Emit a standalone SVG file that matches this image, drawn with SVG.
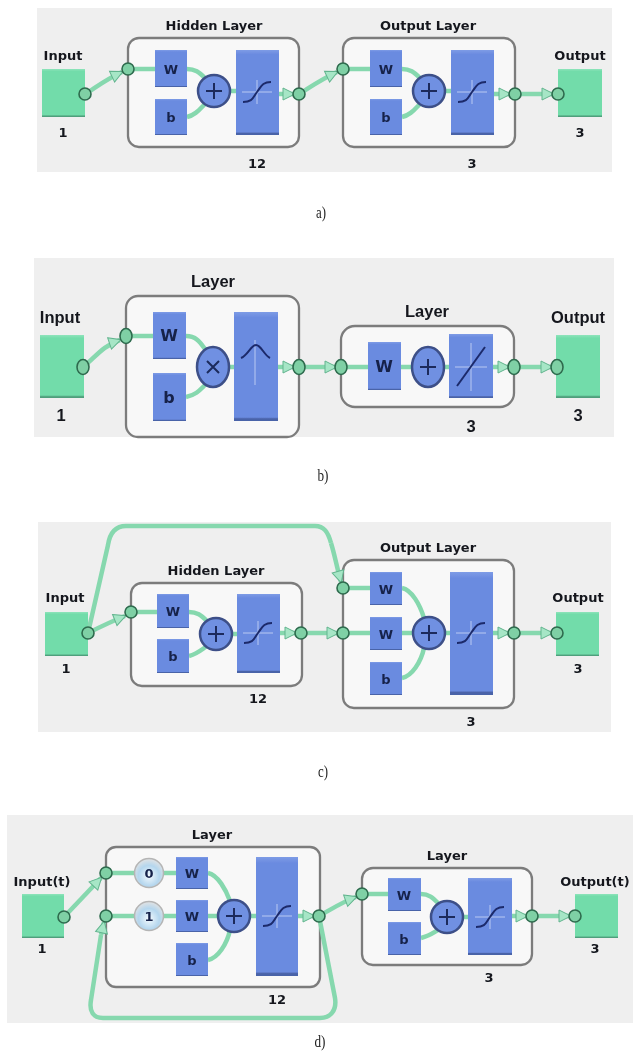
<svg xmlns="http://www.w3.org/2000/svg" xmlns:xlink="http://www.w3.org/1999/xlink" width="633" height="1055" viewBox="0 0 633 1055">
<style>
.panel{fill:#efefef}
.layer{fill:#f8f8f8;stroke:#7c7c7c;stroke-width:2.3}
.io{fill:url(#gGreen)}
.blk{fill:url(#gBlue)}
.sum{fill:#6f90e2;stroke:#3d5088;stroke-width:2.5}
.delay{fill:url(#gDelay);stroke:#b5b5b5;stroke-width:1.5}
.dot{fill:#7fd0a5;stroke:#2e6b4e;stroke-width:1.6}
.wire{fill:none;stroke:#86d8ae;stroke-width:4.5}
.arr{marker-end:url(#tri)}
.glyph{fill:none;stroke:#1b2a6b;stroke-width:2}
.cross{fill:none;stroke:#b9c9f2;stroke-width:1}
.op{fill:none;stroke:#1d2c5c;stroke-width:2}
text{font-family:"DejaVu Sans","Liberation Sans",sans-serif;font-weight:bold;fill:#14181f;text-anchor:middle}
.t{font-size:13px}
.n{font-size:13px}
.tall{font-family:"Liberation Sans",Arial,sans-serif;font-size:16.5px}
.wb{font-size:13px;fill:#16224a}
.big{font-size:16px}
.cap{font-family:"Liberation Serif",serif;font-weight:normal;font-size:17px;fill:#222}
</style>
<defs>
<linearGradient id="gBlue" x1="0" y1="0" x2="0" y2="1"><stop offset="0" stop-color="#7e9ce6"/><stop offset="0.05" stop-color="#6b8be0"/><stop offset="0.965" stop-color="#6b8be0"/><stop offset="0.98" stop-color="#4a63a8"/></linearGradient>
<linearGradient id="gGreen" x1="0" y1="0" x2="0" y2="1"><stop offset="0" stop-color="#8fe4bb"/><stop offset="0.05" stop-color="#72dcaa"/><stop offset="0.955" stop-color="#72dcaa"/><stop offset="0.98" stop-color="#4f9f7c"/></linearGradient>
<radialGradient id="gDelay" cx="0.5" cy="0.6" r="0.6"><stop offset="0" stop-color="#f4fafd"/><stop offset="0.6" stop-color="#b4d6ee"/><stop offset="1" stop-color="#e3e3e3"/></radialGradient>
<marker id="tri" markerUnits="userSpaceOnUse" markerWidth="16" markerHeight="16" refX="12" refY="8" orient="auto"><path d="M1 2L13 8L1 14Z" fill="#a6e6c6" stroke="#62b48e" stroke-width="1"/></marker>
<g id="tan"><path class="cross" d="M-15 0H15M0 -12V12"/><path class="glyph" d="M-14 10C-4 10 -4 5 0 0S5 -10 14 -10"/></g>
<g id="plus"><path class="op" d="M-8 0H8M0 -8V8"/></g>
<filter id="soft" x="0" y="0" width="100%" height="100%"><feGaussianBlur stdDeviation="0.55"/></filter>
</defs>
<rect width="633" height="1055" fill="#fff"/>
<g filter="url(#soft)">
<rect class="panel" x="37" y="8" width="575" height="164"/>
<rect class="panel" x="34" y="258" width="580" height="179"/>
<rect class="panel" x="38" y="522" width="573" height="210"/>
<rect class="panel" x="7" y="815" width="626" height="208"/>

<g id="a-hidden"><rect class="layer" x="128" y="38" width="171" height="109" rx="11"/><text class="t" x="214" y="30">Hidden Layer</text><text class="n" x="257" y="168">12</text></g>
<g id="a-output"><rect class="layer" x="343" y="38" width="172" height="109" rx="11"/><text class="t" x="428" y="30">Output Layer</text><text class="n" x="472" y="168">3</text></g>
<g id="a-input"><rect class="io" x="42" y="69" width="43" height="48"/><text class="t" x="63" y="60">Input</text><text class="n" x="63" y="137">1</text></g>
<g id="a-out"><rect class="io" x="558" y="69" width="44" height="48"/><text class="t" x="580" y="60">Output</text><text class="n" x="580" y="137">3</text></g>

<g id="b-layer1"><rect class="layer" x="126" y="296" width="173" height="141" rx="12"/><text class="tall" x="213" y="287">Layer</text></g>
<g id="b-layer2"><rect class="layer" x="341" y="326" width="173" height="81" rx="14"/><text class="tall" x="427" y="317">Layer</text><text class="tall" x="471" y="432">3</text></g>
<g id="b-input"><rect class="io" x="40" y="335" width="44" height="63"/><text class="tall" x="60" y="323">Input</text><text class="tall" x="61" y="421">1</text></g>
<g id="b-out"><rect class="io" x="556" y="335" width="44" height="63"/><text class="tall" x="578" y="323">Output</text><text class="tall" x="578" y="421">3</text></g>

<g id="c-hidden"><rect class="layer" x="131" y="583" width="171" height="103" rx="11"/><text class="t" x="216" y="575">Hidden Layer</text><text class="n" x="258" y="703">12</text></g>
<g id="c-output"><rect class="layer" x="343" y="560" width="171" height="148" rx="11"/><text class="t" x="428" y="552">Output Layer</text><text class="n" x="471" y="726">3</text></g>
<g id="c-input"><rect class="io" x="45" y="612" width="43" height="44"/><text class="t" x="65" y="602">Input</text><text class="n" x="66" y="673">1</text></g>
<g id="c-out"><rect class="io" x="556" y="612" width="43" height="44"/><text class="t" x="578" y="602">Output</text><text class="n" x="578" y="673">3</text></g>

<g id="d-layer1"><rect class="layer" x="106" y="847" width="214" height="140" rx="10"/><text class="t" x="212" y="839">Layer</text><text class="n" x="277" y="1004">12</text></g>
<g id="d-layer2"><rect class="layer" x="362" y="868" width="170" height="97" rx="11"/><text class="t" x="447" y="860">Layer</text><text class="n" x="489" y="982">3</text></g>
<g id="d-input"><rect class="io" x="22" y="894" width="42" height="44"/><text class="t" x="42" y="886">Input(t)</text><text class="n" x="42" y="953">1</text></g>
<g id="d-out"><rect class="io" x="575" y="894" width="43" height="44"/><text class="t" x="595" y="886">Output(t)</text><text class="n" x="595" y="953">3</text></g>

<g id="connectors">
<path class="wire arr" d="M85 94C95 88 105 80 122 72"/>
<path class="wire" d="M128 69H155M187 69C195 69 199 72 205 78M187 117C195 115 199 110 205 104M231 91H236"/>
<path class="wire arr" d="M279 94H294"/>
<path class="wire arr" d="M299 94C309 88 320 80 337 72"/>
<path class="wire" d="M343 69H370M402 69C410 69 414 72 420 78M402 117C410 115 414 110 420 104M446 91H451"/>
<path class="wire arr" d="M494 94H510"/>
<path class="wire arr" d="M515 94H553"/>
<path class="wire arr" d="M83 367C95 358 102 346 120 340"/>
<path class="wire" d="M126 336H153M186 336C196 336 200 342 205 349M186 397C196 395 200 390 205 385M229 367H234"/>
<path class="wire arr" d="M278 367H294"/>
<path class="wire arr" d="M299 367H336"/>
<path class="wire" d="M341 367H449"/>
<path class="wire arr" d="M493 367H509"/>
<path class="wire arr" d="M514 367H552"/>
<path class="wire arr" d="M88 633C98 628 110 622 125 616"/>
<path class="wire" d="M88 633L108 545C110 532 116 526 126 526H315C324 526 328 532 331 543"/>
<path class="wire arr" d="M331 543C335 556 337 568 341 582"/>
<path class="wire" d="M131 612H157M189 612C197 612 201 615 207 621M189 656C197 654 201 650 207 646M232 634H237"/>
<path class="wire arr" d="M280 633H296"/>
<path class="wire arr" d="M301 633H338"/>
<path class="wire" d="M343 588H370M402 588C412 590 420 605 424 618M343 633H450M402 678C412 676 421 662 424 648"/>
<path class="wire arr" d="M493 633H509"/>
<path class="wire arr" d="M514 633H552"/>
<path class="wire arr" d="M64 917L101 878"/>
<path class="wire" d="M106 873H176M106 916H256M208 873C218 875 226 890 230 901M208 960C218 958 227 944 230 930"/>
<path class="wire arr" d="M298 916H314"/>
<path class="wire arr" d="M319 916C330 910 342 902 356 897"/>
<path class="wire" d="M319 916L335 998C337 1011 330 1018 320 1018H103C93 1018 89 1011 91 1000L101 935"/>
<path class="wire arr" d="M101 935L104 922"/>
<path class="wire" d="M362 894H388M421 894C429 894 433 898 438 903M421 938C429 936 433 933 438 930M463 917H468"/>
<path class="wire arr" d="M512 916H527"/>
<path class="wire arr" d="M532 916H570"/>
</g>

<g id="a-h-w"><rect class="blk" x="155" y="50" width="32" height="37"/><text class="wb" x="171" y="74">W</text></g>
<g id="a-h-b"><rect class="blk" x="155" y="99" width="32" height="36"/><text class="wb" x="171" y="122">b</text></g>
<g id="a-h-sum"><circle class="sum" cx="214" cy="91" r="16"/><use xlink:href="#plus" href="#plus" x="214" y="91"/></g>
<g id="a-h-tf"><rect class="blk" x="236" y="50" width="43" height="85"/><use xlink:href="#tan" href="#tan" x="257" y="92"/></g>
<g id="a-o-w"><rect class="blk" x="370" y="50" width="32" height="37"/><text class="wb" x="386" y="74">W</text></g>
<g id="a-o-b"><rect class="blk" x="370" y="99" width="32" height="36"/><text class="wb" x="386" y="122">b</text></g>
<g id="a-o-sum"><circle class="sum" cx="429" cy="91" r="16"/><use xlink:href="#plus" href="#plus" x="429" y="91"/></g>
<g id="a-o-tf"><rect class="blk" x="451" y="50" width="43" height="85"/><use xlink:href="#tan" href="#tan" x="472" y="92"/></g>

<g id="b-1-w"><rect class="blk" x="153" y="312" width="33" height="47"/><text class="wb big" x="169" y="341">W</text></g>
<g id="b-1-b"><rect class="blk" x="153" y="373" width="33" height="48"/><text class="wb big" x="169" y="403">b</text></g>
<g id="b-1-prod"><ellipse class="sum" cx="213" cy="367" rx="16" ry="20"/><path class="op" d="M207 361L219 373M219 361L207 373"/></g>
<g id="b-1-tf"><rect class="blk" x="234" y="312" width="44" height="109"/><path class="cross" d="M255 340V385"/><path class="glyph" d="M241 358C248 355 251 345 256 345S264 355 270 358"/></g>
<g id="b-2-w"><rect class="blk" x="368" y="342" width="33" height="48"/><text class="wb big" x="384" y="372">W</text></g>
<g id="b-2-sum"><ellipse class="sum" cx="428" cy="367" rx="16" ry="20"/><use xlink:href="#plus" href="#plus" x="428" y="367"/></g>
<g id="b-2-tf"><rect class="blk" x="449" y="334" width="44" height="64"/><path class="cross" d="M455 367H487M471 343V391"/><path class="glyph" d="M457 386L485 347"/></g>

<g id="c-h-w"><rect class="blk" x="157" y="594" width="32" height="34"/><text class="wb" x="173" y="616">W</text></g>
<g id="c-h-b"><rect class="blk" x="157" y="639" width="32" height="34"/><text class="wb" x="173" y="661">b</text></g>
<g id="c-h-sum"><circle class="sum" cx="216" cy="634" r="16"/><use xlink:href="#plus" href="#plus" x="216" y="634"/></g>
<g id="c-h-tf"><rect class="blk" x="237" y="594" width="43" height="79"/><use xlink:href="#tan" href="#tan" x="258" y="633"/></g>
<g id="c-o-w1"><rect class="blk" x="370" y="572" width="32" height="33"/><text class="wb" x="386" y="594">W</text></g>
<g id="c-o-w2"><rect class="blk" x="370" y="617" width="32" height="33"/><text class="wb" x="386" y="639">W</text></g>
<g id="c-o-b"><rect class="blk" x="370" y="662" width="32" height="33"/><text class="wb" x="386" y="684">b</text></g>
<g id="c-o-sum"><circle class="sum" cx="429" cy="633" r="16"/><use xlink:href="#plus" href="#plus" x="429" y="633"/></g>
<g id="c-o-tf"><rect class="blk" x="450" y="572" width="43" height="123"/><use xlink:href="#tan" href="#tan" x="471" y="633"/></g>

<g id="d-delay0"><circle class="delay" cx="149" cy="873" r="14.5"/><text class="wb" x="149" y="878">0</text></g>
<g id="d-delay1"><circle class="delay" cx="149" cy="916" r="14.5"/><text class="wb" x="149" y="921">1</text></g>
<g id="d-1-w1"><rect class="blk" x="176" y="857" width="32" height="32"/><text class="wb" x="192" y="878">W</text></g>
<g id="d-1-w2"><rect class="blk" x="176" y="900" width="32" height="32"/><text class="wb" x="192" y="921">W</text></g>
<g id="d-1-b"><rect class="blk" x="176" y="943" width="32" height="33"/><text class="wb" x="192" y="965">b</text></g>
<g id="d-1-sum"><circle class="sum" cx="234" cy="916" r="16"/><use xlink:href="#plus" href="#plus" x="234" y="916"/></g>
<g id="d-1-tf"><rect class="blk" x="256" y="857" width="42" height="119"/><use xlink:href="#tan" href="#tan" x="277" y="916"/></g>
<g id="d-2-w"><rect class="blk" x="388" y="878" width="33" height="33"/><text class="wb" x="404" y="900">W</text></g>
<g id="d-2-b"><rect class="blk" x="388" y="922" width="33" height="33"/><text class="wb" x="404" y="944">b</text></g>
<g id="d-2-sum"><circle class="sum" cx="447" cy="917" r="16"/><use xlink:href="#plus" href="#plus" x="447" y="917"/></g>
<g id="d-2-tf"><rect class="blk" x="468" y="878" width="44" height="77"/><use xlink:href="#tan" href="#tan" x="490" y="917"/></g>

<g id="ports">
<circle class="dot" cx="85" cy="94" r="6"/><circle class="dot" cx="128" cy="69" r="6"/><circle class="dot" cx="299" cy="94" r="6"/><circle class="dot" cx="343" cy="69" r="6"/><circle class="dot" cx="515" cy="94" r="6"/><circle class="dot" cx="558" cy="94" r="6"/>
<ellipse class="dot" cx="83" cy="367" rx="6" ry="7.5"/><ellipse class="dot" cx="126" cy="336" rx="6" ry="7.5"/><ellipse class="dot" cx="299" cy="367" rx="6" ry="7.5"/><ellipse class="dot" cx="341" cy="367" rx="6" ry="7.5"/><ellipse class="dot" cx="514" cy="367" rx="6" ry="7.5"/><ellipse class="dot" cx="557" cy="367" rx="6" ry="7.5"/>
<circle class="dot" cx="88" cy="633" r="6"/><circle class="dot" cx="131" cy="612" r="6"/><circle class="dot" cx="301" cy="633" r="6"/><circle class="dot" cx="343" cy="588" r="6"/><circle class="dot" cx="343" cy="633" r="6"/><circle class="dot" cx="514" cy="633" r="6"/><circle class="dot" cx="557" cy="633" r="6"/>
<circle class="dot" cx="64" cy="917" r="6"/><circle class="dot" cx="106" cy="873" r="6"/><circle class="dot" cx="106" cy="916" r="6"/><circle class="dot" cx="319" cy="916" r="6"/><circle class="dot" cx="362" cy="894" r="6"/><circle class="dot" cx="532" cy="916" r="6"/><circle class="dot" cx="575" cy="916" r="6"/>
</g>

<text class="cap" x="321" y="218" textLength="10" lengthAdjust="spacingAndGlyphs">a)</text>
<text class="cap" x="323" y="481" textLength="11" lengthAdjust="spacingAndGlyphs">b)</text>
<text class="cap" x="323" y="777" textLength="10" lengthAdjust="spacingAndGlyphs">c)</text>
<text class="cap" x="320" y="1047" textLength="11" lengthAdjust="spacingAndGlyphs">d)</text>
</g>
</svg>
